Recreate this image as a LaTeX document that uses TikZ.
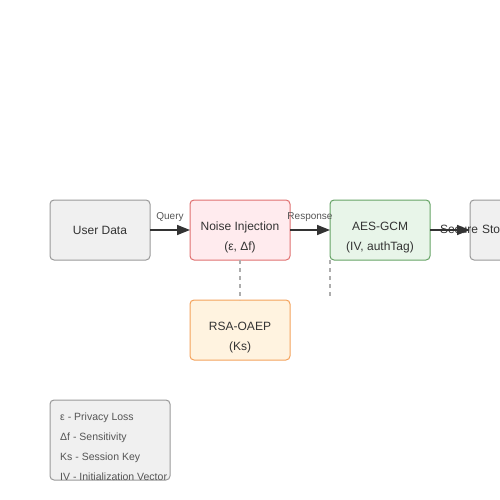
\documentclass[tikz,border=0pt]{standalone}
\usepackage{fontspec}
\setmainfont{Liberation Sans}
\usetikzlibrary{positioning,arrows.meta}

\definecolor{greyfill}{HTML}{F0F0F0}
\definecolor{greyline}{HTML}{999999}
\definecolor{pinkfill}{HTML}{FFEBEE}
\definecolor{pinkline}{HTML}{E07070}
\definecolor{greenfill}{HTML}{E8F5E9}
\definecolor{greenline}{HTML}{66A366}
\definecolor{orangefill}{HTML}{FFF3E0}
\definecolor{orangeline}{HTML}{F4A25B}
\definecolor{textcol}{HTML}{333333}
\definecolor{labelcol}{HTML}{555555}

\begin{document}
\begin{tikzpicture}[
x=1pt, y=-1pt,
node distance=40pt,
% node style
rect/.style={rectangle, rounded corners=4pt, line width=1pt, minimum width=100pt,
  minimum height=60pt, inner sep=0pt, outer sep=0pt, align=center,
  text=textcol, font=\fontsize{12}{20}\selectfont},
twoline/.style={text height=43pt, text depth=3pt},
grey/.style={draw=greyline, fill=greyfill},
pink/.style={draw=pinkline, fill=pinkfill},
green/.style={draw=greenline, fill=greenfill},
orange/.style={draw=orangeline, fill=orangefill},
flow/.style={line width=1.5pt, draw=textcol, -{Triangle[length=13pt,width=10pt]}},
link/.style={line width=1.5pt, draw=greyline!80, dash pattern=on 4pt off 4pt},
edgetext/.style={font=\fontsize{10}{12}\selectfont, text=labelcol, inner sep=1pt}
]

\useasboundingbox (0,0) rectangle (500,500);
\clip (0,0) rectangle (500,500);

% nodes
\node[rect, grey] (user) at (100,230) {User Data};
\node[rect, pink, twoline] (noise) [right=of user] {Noise Injection\\(ε, Δf)};
\node[rect, green, twoline] (aes) [right=of noise] {AES-GCM\\(IV, authTag)};
\node[rect, grey] (store) [right=of aes] {};
\node[rect, text width=100pt, align=left, anchor=west] (store_txt) at ([xshift=-30pt,yshift=-1pt]store.west) {Secure Storage};
\node[rect, orange, twoline] (rsa) [below=of noise] {RSA-OAEP\\(Ks)};

% legend
\node[rect, grey, minimum width=120pt, minimum height=80pt] (legend) at (110,440) {};
\node[anchor=north west, align=left, inner sep=0pt, text=labelcol,
  font=\fontsize{10.5}{20}\selectfont] (legend_txt) at ([shift={(10pt,-13pt)}]legend.north west)
  {ε - Privacy Loss\\Δf - Sensitivity\\Ks - Session Key\\IV - Initialization Vector};

% draw lines between nodes
\draw[flow] (user.east) -- (noise.west) node[midway, above=7pt, edgetext] {Query};
\draw[flow] (noise.east) -- (aes.west) node[midway, above=7pt, edgetext] {Response};
\draw[flow] (aes.east) -- (store.west);

% dashed links
\draw[link] (noise.south) -- (rsa.north);
\coordinate (aes_tail) at ([yshift=-37pt]aes.south west);
\draw[link] (aes.south west) -- (aes_tail);

\end{tikzpicture}
\end{document}
